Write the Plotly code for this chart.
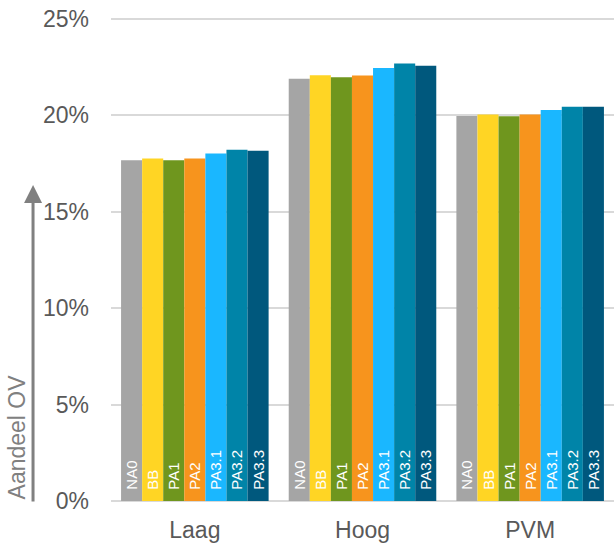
import plotly.graph_objects as go

groups = ["Laag", "Hoog", "PVM"]
series = ["NA0", "BB", "PA1", "PA2", "PA3.1", "PA3.2", "PA3.3"]
colors = ["#A5A5A5", "#FFD524", "#6F961E", "#F7941D", "#1AB7FF", "#0084A8", "#00587D"]

# share of public transport (fraction) per scenario, in group order Laag / Hoog / PVM
na0 = [0.1767, 0.2190, 0.1997]
bb = [0.1776, 0.2208, 0.2004]
pa1 = [0.1767, 0.2198, 0.1995]
pa2 = [0.1776, 0.2207, 0.2004]
pa3_1 = [0.1802, 0.2245, 0.2028]
pa3_2 = [0.1822, 0.2269, 0.2044]
pa3_3 = [0.1816, 0.2257, 0.2044]
values = [na0, bb, pa1, pa2, pa3_1, pa3_2, pa3_3]

fig = go.Figure()
for name, vals, col in zip(series, values, colors):
    fig.add_trace(go.Bar(
        x=groups, y=vals, name=name,
        marker=dict(color=col, line=dict(width=0)),
        text=[name] * len(groups),
        # two no-break spaces lift the label off the axis like in the original
        texttemplate="\u00a0\u00a0%{text}",
        textposition="inside",
        insidetextanchor="start",
        constraintext="none",
        textangle=-90,
        textfont=dict(color="white", size=15, family="Liberation Sans, Arial"),
        hoverinfo="skip",
    ))

fig.update_layout(
    width=614, height=547,
    margin=dict(l=111, r=0, t=17, b=46),
    barmode="group", bargap=0.12, bargroupgap=0,
    showlegend=False,
    paper_bgcolor="white", plot_bgcolor="white",
    font=dict(family="Liberation Sans, Arial", color="#595959", size=22),
    xaxis=dict(showline=False, ticks="", tickfont=dict(size=23, color="#595959"),
               ticklabelstandoff=13),
    # a bit of headroom above 25% so its gridline is still drawn
    yaxis=dict(range=[0, 0.251], tickvals=[0, 0.05, 0.10, 0.15, 0.20, 0.25],
               tickformat=".0%",
               showgrid=True, gridcolor="#D9D9D9", gridwidth=1.5,
               zeroline=True, zerolinecolor="#D9D9D9", zerolinewidth=1.5,
               tickfont=dict(size=23, color="#595959"), ticklabelstandoff=21),
)

# y axis title with upward arrow
fig.add_annotation(
    text="Aandeel OV", xref="paper", yref="paper", x=-0.187, y=0,
    xanchor="center", yanchor="bottom", textangle=-90, showarrow=False,
    font=dict(size=23, color="#808080"),
)
fig.add_annotation(
    xref="paper", yref="paper", x=-0.155, y=0.653, ax=0, ay=318,
    text="", showarrow=True, arrowhead=2, arrowsize=1.2, arrowwidth=3,
    arrowcolor="#808080",
)

# drop the browser's default 8px body margin so the figure fills the window
fig.write_html("out.html", config={"displayModeBar": False},
               post_script="document.body.style.margin='0';")
